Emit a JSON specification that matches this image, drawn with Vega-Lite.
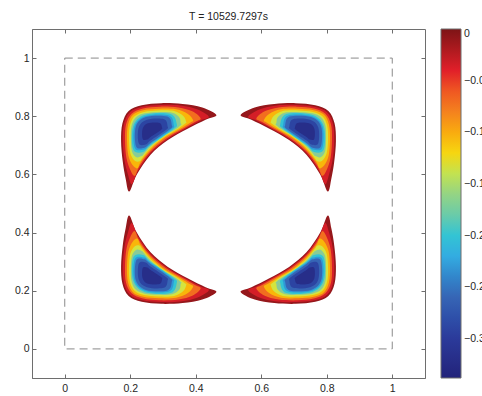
{
"$schema": "https://vega.github.io/schema/vega-lite/v6.json",
"width": 393,
"height": 349,
"autosize": "none",
"padding": {"left": 32, "top": 29, "right": 57, "bottom": 18},
"background": "white",
"title": {"text": "T = 10529.7297s", "fontSize": 10.5, "font": "Liberation Sans", "fontWeight": "normal", "color": "#222222", "offset": 6, "anchor": "middle"},
"config": {
  "view": {"stroke": "#6e6e6e", "strokeWidth": 1},
  "axis": {"grid": false, "title": null, "domainColor": "#6e6e6e", "tickColor": "#6e6e6e", "labelColor": "#262626", "labelFont": "Liberation Sans", "labelFontSize": 10.5, "tickSize": -4}
},
"layer": [
  {
    "data": {"values": [{"x0": 0, "x1": 1, "y0": 0, "y1": 1}]},
    "mark": {"type": "rect", "filled": false, "stroke": "#8a8a8a", "strokeWidth": 1, "strokeDash": [8, 5]},
    "encoding": {
      "x": {"field": "x0", "type": "quantitative", "scale": {"domain": [-0.1, 1.1], "nice": false, "zero": false}, "axis": {"orient": "bottom", "values": [0, 0.2, 0.4, 0.6, 0.8, 1], "format": ".1~f", "labelPadding": 9}},
      "x2": {"field": "x1"},
      "y": {"field": "y0", "type": "quantitative", "scale": {"domain": [-0.1, 1.1], "nice": false, "zero": false}, "axis": {"orient": "left", "values": [0, 0.2, 0.4, 0.6, 0.8, 1], "format": ".1~f", "labelPadding": 7}},
      "y2": {"field": "y1"}
    }
  },
  {
    "data": {"values": [
{"g":"a00","v":-0.01,"i":1,"x":0.463,"y":0.804},{"g":"a00","v":-0.01,"i":2,"x":0.420,"y":0.830},{"g":"a00","v":-0.01,"i":3,"x":0.360,"y":0.842},{"g":"a00","v":-0.01,"i":4,"x":0.295,"y":0.845},{"g":"a00","v":-0.01,"i":5,"x":0.235,"y":0.838},{"g":"a00","v":-0.01,"i":6,"x":0.195,"y":0.818},{"g":"a00","v":-0.01,"i":7,"x":0.176,"y":0.775},{"g":"a00","v":-0.01,"i":8,"x":0.172,"y":0.715},{"g":"a00","v":-0.01,"i":9,"x":0.177,"y":0.645},{"g":"a00","v":-0.01,"i":10,"x":0.186,"y":0.585},{"g":"a00","v":-0.01,"i":11,"x":0.197,"y":0.541},{"g":"a00","v":-0.01,"i":12,"x":0.220,"y":0.600},{"g":"a00","v":-0.01,"i":13,"x":0.262,"y":0.668},{"g":"a00","v":-0.01,"i":14,"x":0.315,"y":0.718},{"g":"a00","v":-0.01,"i":15,"x":0.375,"y":0.757},{"g":"a00","v":-0.01,"i":16,"x":0.430,"y":0.788},
{"g":"a01","v":-0.035,"i":1,"x":0.440,"y":0.798},{"g":"a01","v":-0.035,"i":2,"x":0.406,"y":0.823},{"g":"a01","v":-0.035,"i":3,"x":0.354,"y":0.837},{"g":"a01","v":-0.035,"i":4,"x":0.293,"y":0.839},{"g":"a01","v":-0.035,"i":5,"x":0.237,"y":0.833},{"g":"a01","v":-0.035,"i":6,"x":0.199,"y":0.814},{"g":"a01","v":-0.035,"i":7,"x":0.181,"y":0.774},{"g":"a01","v":-0.035,"i":8,"x":0.177,"y":0.717},{"g":"a01","v":-0.035,"i":9,"x":0.182,"y":0.651},{"g":"a01","v":-0.035,"i":10,"x":0.193,"y":0.600},{"g":"a01","v":-0.035,"i":11,"x":0.205,"y":0.567},{"g":"a01","v":-0.035,"i":12,"x":0.224,"y":0.613},{"g":"a01","v":-0.035,"i":13,"x":0.262,"y":0.673},{"g":"a01","v":-0.035,"i":14,"x":0.312,"y":0.720},{"g":"a01","v":-0.035,"i":15,"x":0.368,"y":0.757},{"g":"a01","v":-0.035,"i":16,"x":0.415,"y":0.785},
{"g":"a02","v":-0.07,"i":1,"x":0.415,"y":0.792},{"g":"a02","v":-0.07,"i":2,"x":0.391,"y":0.816},{"g":"a02","v":-0.07,"i":3,"x":0.347,"y":0.830},{"g":"a02","v":-0.07,"i":4,"x":0.291,"y":0.833},{"g":"a02","v":-0.07,"i":5,"x":0.239,"y":0.827},{"g":"a02","v":-0.07,"i":6,"x":0.204,"y":0.809},{"g":"a02","v":-0.07,"i":7,"x":0.187,"y":0.772},{"g":"a02","v":-0.07,"i":8,"x":0.184,"y":0.720},{"g":"a02","v":-0.07,"i":9,"x":0.188,"y":0.659},{"g":"a02","v":-0.07,"i":10,"x":0.200,"y":0.616},{"g":"a02","v":-0.07,"i":11,"x":0.214,"y":0.595},{"g":"a02","v":-0.07,"i":12,"x":0.228,"y":0.628},{"g":"a02","v":-0.07,"i":13,"x":0.262,"y":0.679},{"g":"a02","v":-0.07,"i":14,"x":0.308,"y":0.722},{"g":"a02","v":-0.07,"i":15,"x":0.360,"y":0.756},{"g":"a02","v":-0.07,"i":16,"x":0.399,"y":0.781},
{"g":"a03","v":-0.105,"i":1,"x":0.392,"y":0.786},{"g":"a03","v":-0.105,"i":2,"x":0.376,"y":0.808},{"g":"a03","v":-0.105,"i":3,"x":0.340,"y":0.824},{"g":"a03","v":-0.105,"i":4,"x":0.288,"y":0.826},{"g":"a03","v":-0.105,"i":5,"x":0.240,"y":0.821},{"g":"a03","v":-0.105,"i":6,"x":0.208,"y":0.805},{"g":"a03","v":-0.105,"i":7,"x":0.193,"y":0.770},{"g":"a03","v":-0.105,"i":8,"x":0.190,"y":0.722},{"g":"a03","v":-0.105,"i":9,"x":0.194,"y":0.666},{"g":"a03","v":-0.105,"i":10,"x":0.207,"y":0.632},{"g":"a03","v":-0.105,"i":11,"x":0.222,"y":0.621},{"g":"a03","v":-0.105,"i":12,"x":0.232,"y":0.643},{"g":"a03","v":-0.105,"i":13,"x":0.262,"y":0.685},{"g":"a03","v":-0.105,"i":14,"x":0.304,"y":0.725},{"g":"a03","v":-0.105,"i":15,"x":0.352,"y":0.756},{"g":"a03","v":-0.105,"i":16,"x":0.383,"y":0.778},
{"g":"a04","v":-0.135,"i":1,"x":0.371,"y":0.780},{"g":"a04","v":-0.135,"i":2,"x":0.362,"y":0.801},{"g":"a04","v":-0.135,"i":3,"x":0.334,"y":0.818},{"g":"a04","v":-0.135,"i":4,"x":0.286,"y":0.820},{"g":"a04","v":-0.135,"i":5,"x":0.242,"y":0.815},{"g":"a04","v":-0.135,"i":6,"x":0.213,"y":0.800},{"g":"a04","v":-0.135,"i":7,"x":0.199,"y":0.769},{"g":"a04","v":-0.135,"i":8,"x":0.196,"y":0.725},{"g":"a04","v":-0.135,"i":9,"x":0.200,"y":0.674},{"g":"a04","v":-0.135,"i":10,"x":0.214,"y":0.647},{"g":"a04","v":-0.135,"i":11,"x":0.229,"y":0.645},{"g":"a04","v":-0.135,"i":12,"x":0.236,"y":0.656},{"g":"a04","v":-0.135,"i":13,"x":0.262,"y":0.691},{"g":"a04","v":-0.135,"i":14,"x":0.301,"y":0.727},{"g":"a04","v":-0.135,"i":15,"x":0.345,"y":0.756},{"g":"a04","v":-0.135,"i":16,"x":0.368,"y":0.775},
{"g":"a05","v":-0.17,"i":1,"x":0.354,"y":0.776},{"g":"a05","v":-0.17,"i":2,"x":0.350,"y":0.796},{"g":"a05","v":-0.17,"i":3,"x":0.328,"y":0.812},{"g":"a05","v":-0.17,"i":4,"x":0.284,"y":0.814},{"g":"a05","v":-0.17,"i":5,"x":0.244,"y":0.810},{"g":"a05","v":-0.17,"i":6,"x":0.217,"y":0.796},{"g":"a05","v":-0.17,"i":7,"x":0.204,"y":0.767},{"g":"a05","v":-0.17,"i":8,"x":0.202,"y":0.727},{"g":"a05","v":-0.17,"i":9,"x":0.205,"y":0.680},{"g":"a05","v":-0.17,"i":10,"x":0.219,"y":0.659},{"g":"a05","v":-0.17,"i":11,"x":0.235,"y":0.663},{"g":"a05","v":-0.17,"i":12,"x":0.239,"y":0.667},{"g":"a05","v":-0.17,"i":13,"x":0.262,"y":0.696},{"g":"a05","v":-0.17,"i":14,"x":0.298,"y":0.729},{"g":"a05","v":-0.17,"i":15,"x":0.338,"y":0.755},{"g":"a05","v":-0.17,"i":16,"x":0.356,"y":0.772},
{"g":"a06","v":-0.2,"i":1,"x":0.342,"y":0.773},{"g":"a06","v":-0.2,"i":2,"x":0.323,"y":0.808},{"g":"a06","v":-0.2,"i":3,"x":0.245,"y":0.805},{"g":"a06","v":-0.2,"i":4,"x":0.209,"y":0.766},{"g":"a06","v":-0.2,"i":5,"x":0.209,"y":0.686},{"g":"a06","v":-0.2,"i":6,"x":0.239,"y":0.677},{"g":"a06","v":-0.2,"i":7,"x":0.262,"y":0.700},{"g":"a06","v":-0.2,"i":8,"x":0.332,"y":0.755},
{"g":"a07","v":-0.23,"i":1,"x":0.333,"y":0.770},{"g":"a07","v":-0.23,"i":2,"x":0.318,"y":0.803},{"g":"a07","v":-0.23,"i":3,"x":0.247,"y":0.801},{"g":"a07","v":-0.23,"i":4,"x":0.213,"y":0.765},{"g":"a07","v":-0.23,"i":5,"x":0.214,"y":0.691},{"g":"a07","v":-0.23,"i":6,"x":0.242,"y":0.686},{"g":"a07","v":-0.23,"i":7,"x":0.262,"y":0.704},{"g":"a07","v":-0.23,"i":8,"x":0.326,"y":0.755},
{"g":"a08","v":-0.26,"i":1,"x":0.327,"y":0.769},{"g":"a08","v":-0.26,"i":2,"x":0.313,"y":0.799},{"g":"a08","v":-0.26,"i":3,"x":0.248,"y":0.797},{"g":"a08","v":-0.26,"i":4,"x":0.217,"y":0.764},{"g":"a08","v":-0.26,"i":5,"x":0.218,"y":0.696},{"g":"a08","v":-0.26,"i":6,"x":0.243,"y":0.692},{"g":"a08","v":-0.26,"i":7,"x":0.262,"y":0.708},{"g":"a08","v":-0.26,"i":8,"x":0.321,"y":0.755},
{"g":"a09","v":-0.29,"i":1,"x":0.314,"y":0.766},{"g":"a09","v":-0.29,"i":2,"x":0.303,"y":0.790},{"g":"a09","v":-0.29,"i":3,"x":0.251,"y":0.788},{"g":"a09","v":-0.29,"i":4,"x":0.226,"y":0.762},{"g":"a09","v":-0.29,"i":5,"x":0.226,"y":0.707},{"g":"a09","v":-0.29,"i":6,"x":0.247,"y":0.703},{"g":"a09","v":-0.29,"i":7,"x":0.262,"y":0.717},{"g":"a09","v":-0.29,"i":8,"x":0.310,"y":0.754},
{"g":"a10","v":-0.32,"i":1,"x":0.297,"y":0.761},{"g":"a10","v":-0.32,"i":2,"x":0.289,"y":0.777},{"g":"a10","v":-0.32,"i":3,"x":0.254,"y":0.776},{"g":"a10","v":-0.32,"i":4,"x":0.238,"y":0.758},{"g":"a10","v":-0.32,"i":5,"x":0.238,"y":0.722},{"g":"a10","v":-0.32,"i":6,"x":0.252,"y":0.720},{"g":"a10","v":-0.32,"i":7,"x":0.262,"y":0.729},{"g":"a10","v":-0.32,"i":8,"x":0.294,"y":0.753},

{"g":"b00","v":-0.01,"i":1,"x":0.537,"y":0.804},{"g":"b00","v":-0.01,"i":2,"x":0.580,"y":0.830},{"g":"b00","v":-0.01,"i":3,"x":0.640,"y":0.842},{"g":"b00","v":-0.01,"i":4,"x":0.705,"y":0.845},{"g":"b00","v":-0.01,"i":5,"x":0.765,"y":0.838},{"g":"b00","v":-0.01,"i":6,"x":0.805,"y":0.818},{"g":"b00","v":-0.01,"i":7,"x":0.824,"y":0.775},{"g":"b00","v":-0.01,"i":8,"x":0.828,"y":0.715},{"g":"b00","v":-0.01,"i":9,"x":0.823,"y":0.645},{"g":"b00","v":-0.01,"i":10,"x":0.814,"y":0.585},{"g":"b00","v":-0.01,"i":11,"x":0.803,"y":0.541},{"g":"b00","v":-0.01,"i":12,"x":0.780,"y":0.600},{"g":"b00","v":-0.01,"i":13,"x":0.738,"y":0.668},{"g":"b00","v":-0.01,"i":14,"x":0.685,"y":0.718},{"g":"b00","v":-0.01,"i":15,"x":0.625,"y":0.757},{"g":"b00","v":-0.01,"i":16,"x":0.570,"y":0.788},
{"g":"b01","v":-0.035,"i":1,"x":0.560,"y":0.798},{"g":"b01","v":-0.035,"i":2,"x":0.594,"y":0.823},{"g":"b01","v":-0.035,"i":3,"x":0.646,"y":0.837},{"g":"b01","v":-0.035,"i":4,"x":0.707,"y":0.839},{"g":"b01","v":-0.035,"i":5,"x":0.763,"y":0.833},{"g":"b01","v":-0.035,"i":6,"x":0.801,"y":0.814},{"g":"b01","v":-0.035,"i":7,"x":0.819,"y":0.774},{"g":"b01","v":-0.035,"i":8,"x":0.823,"y":0.717},{"g":"b01","v":-0.035,"i":9,"x":0.818,"y":0.651},{"g":"b01","v":-0.035,"i":10,"x":0.807,"y":0.600},{"g":"b01","v":-0.035,"i":11,"x":0.795,"y":0.567},{"g":"b01","v":-0.035,"i":12,"x":0.776,"y":0.613},{"g":"b01","v":-0.035,"i":13,"x":0.738,"y":0.673},{"g":"b01","v":-0.035,"i":14,"x":0.688,"y":0.720},{"g":"b01","v":-0.035,"i":15,"x":0.632,"y":0.757},{"g":"b01","v":-0.035,"i":16,"x":0.585,"y":0.785},
{"g":"b02","v":-0.07,"i":1,"x":0.585,"y":0.792},{"g":"b02","v":-0.07,"i":2,"x":0.609,"y":0.816},{"g":"b02","v":-0.07,"i":3,"x":0.653,"y":0.830},{"g":"b02","v":-0.07,"i":4,"x":0.709,"y":0.833},{"g":"b02","v":-0.07,"i":5,"x":0.761,"y":0.827},{"g":"b02","v":-0.07,"i":6,"x":0.796,"y":0.809},{"g":"b02","v":-0.07,"i":7,"x":0.813,"y":0.772},{"g":"b02","v":-0.07,"i":8,"x":0.816,"y":0.720},{"g":"b02","v":-0.07,"i":9,"x":0.812,"y":0.659},{"g":"b02","v":-0.07,"i":10,"x":0.800,"y":0.616},{"g":"b02","v":-0.07,"i":11,"x":0.786,"y":0.595},{"g":"b02","v":-0.07,"i":12,"x":0.772,"y":0.628},{"g":"b02","v":-0.07,"i":13,"x":0.738,"y":0.679},{"g":"b02","v":-0.07,"i":14,"x":0.692,"y":0.722},{"g":"b02","v":-0.07,"i":15,"x":0.640,"y":0.756},{"g":"b02","v":-0.07,"i":16,"x":0.601,"y":0.781},
{"g":"b03","v":-0.105,"i":1,"x":0.608,"y":0.786},{"g":"b03","v":-0.105,"i":2,"x":0.624,"y":0.808},{"g":"b03","v":-0.105,"i":3,"x":0.660,"y":0.824},{"g":"b03","v":-0.105,"i":4,"x":0.712,"y":0.826},{"g":"b03","v":-0.105,"i":5,"x":0.760,"y":0.821},{"g":"b03","v":-0.105,"i":6,"x":0.792,"y":0.805},{"g":"b03","v":-0.105,"i":7,"x":0.807,"y":0.770},{"g":"b03","v":-0.105,"i":8,"x":0.810,"y":0.722},{"g":"b03","v":-0.105,"i":9,"x":0.806,"y":0.666},{"g":"b03","v":-0.105,"i":10,"x":0.793,"y":0.632},{"g":"b03","v":-0.105,"i":11,"x":0.778,"y":0.621},{"g":"b03","v":-0.105,"i":12,"x":0.768,"y":0.643},{"g":"b03","v":-0.105,"i":13,"x":0.738,"y":0.685},{"g":"b03","v":-0.105,"i":14,"x":0.696,"y":0.725},{"g":"b03","v":-0.105,"i":15,"x":0.648,"y":0.756},{"g":"b03","v":-0.105,"i":16,"x":0.617,"y":0.778},
{"g":"b04","v":-0.135,"i":1,"x":0.629,"y":0.780},{"g":"b04","v":-0.135,"i":2,"x":0.638,"y":0.801},{"g":"b04","v":-0.135,"i":3,"x":0.666,"y":0.818},{"g":"b04","v":-0.135,"i":4,"x":0.714,"y":0.820},{"g":"b04","v":-0.135,"i":5,"x":0.758,"y":0.815},{"g":"b04","v":-0.135,"i":6,"x":0.787,"y":0.800},{"g":"b04","v":-0.135,"i":7,"x":0.801,"y":0.769},{"g":"b04","v":-0.135,"i":8,"x":0.804,"y":0.725},{"g":"b04","v":-0.135,"i":9,"x":0.800,"y":0.674},{"g":"b04","v":-0.135,"i":10,"x":0.786,"y":0.647},{"g":"b04","v":-0.135,"i":11,"x":0.771,"y":0.645},{"g":"b04","v":-0.135,"i":12,"x":0.764,"y":0.656},{"g":"b04","v":-0.135,"i":13,"x":0.738,"y":0.691},{"g":"b04","v":-0.135,"i":14,"x":0.699,"y":0.727},{"g":"b04","v":-0.135,"i":15,"x":0.655,"y":0.756},{"g":"b04","v":-0.135,"i":16,"x":0.632,"y":0.775},
{"g":"b05","v":-0.17,"i":1,"x":0.646,"y":0.776},{"g":"b05","v":-0.17,"i":2,"x":0.650,"y":0.796},{"g":"b05","v":-0.17,"i":3,"x":0.672,"y":0.812},{"g":"b05","v":-0.17,"i":4,"x":0.716,"y":0.814},{"g":"b05","v":-0.17,"i":5,"x":0.756,"y":0.810},{"g":"b05","v":-0.17,"i":6,"x":0.783,"y":0.796},{"g":"b05","v":-0.17,"i":7,"x":0.796,"y":0.767},{"g":"b05","v":-0.17,"i":8,"x":0.798,"y":0.727},{"g":"b05","v":-0.17,"i":9,"x":0.795,"y":0.680},{"g":"b05","v":-0.17,"i":10,"x":0.781,"y":0.659},{"g":"b05","v":-0.17,"i":11,"x":0.765,"y":0.663},{"g":"b05","v":-0.17,"i":12,"x":0.761,"y":0.667},{"g":"b05","v":-0.17,"i":13,"x":0.738,"y":0.696},{"g":"b05","v":-0.17,"i":14,"x":0.702,"y":0.729},{"g":"b05","v":-0.17,"i":15,"x":0.662,"y":0.755},{"g":"b05","v":-0.17,"i":16,"x":0.644,"y":0.772},
{"g":"b06","v":-0.2,"i":1,"x":0.658,"y":0.773},{"g":"b06","v":-0.2,"i":2,"x":0.677,"y":0.808},{"g":"b06","v":-0.2,"i":3,"x":0.755,"y":0.805},{"g":"b06","v":-0.2,"i":4,"x":0.791,"y":0.766},{"g":"b06","v":-0.2,"i":5,"x":0.791,"y":0.686},{"g":"b06","v":-0.2,"i":6,"x":0.761,"y":0.677},{"g":"b06","v":-0.2,"i":7,"x":0.738,"y":0.700},{"g":"b06","v":-0.2,"i":8,"x":0.668,"y":0.755},
{"g":"b07","v":-0.23,"i":1,"x":0.667,"y":0.770},{"g":"b07","v":-0.23,"i":2,"x":0.682,"y":0.803},{"g":"b07","v":-0.23,"i":3,"x":0.753,"y":0.801},{"g":"b07","v":-0.23,"i":4,"x":0.787,"y":0.765},{"g":"b07","v":-0.23,"i":5,"x":0.786,"y":0.691},{"g":"b07","v":-0.23,"i":6,"x":0.758,"y":0.686},{"g":"b07","v":-0.23,"i":7,"x":0.738,"y":0.704},{"g":"b07","v":-0.23,"i":8,"x":0.674,"y":0.755},
{"g":"b08","v":-0.26,"i":1,"x":0.673,"y":0.769},{"g":"b08","v":-0.26,"i":2,"x":0.687,"y":0.799},{"g":"b08","v":-0.26,"i":3,"x":0.752,"y":0.797},{"g":"b08","v":-0.26,"i":4,"x":0.783,"y":0.764},{"g":"b08","v":-0.26,"i":5,"x":0.782,"y":0.696},{"g":"b08","v":-0.26,"i":6,"x":0.757,"y":0.692},{"g":"b08","v":-0.26,"i":7,"x":0.738,"y":0.708},{"g":"b08","v":-0.26,"i":8,"x":0.679,"y":0.755},
{"g":"b09","v":-0.29,"i":1,"x":0.686,"y":0.766},{"g":"b09","v":-0.29,"i":2,"x":0.697,"y":0.790},{"g":"b09","v":-0.29,"i":3,"x":0.749,"y":0.788},{"g":"b09","v":-0.29,"i":4,"x":0.774,"y":0.762},{"g":"b09","v":-0.29,"i":5,"x":0.774,"y":0.707},{"g":"b09","v":-0.29,"i":6,"x":0.753,"y":0.703},{"g":"b09","v":-0.29,"i":7,"x":0.738,"y":0.717},{"g":"b09","v":-0.29,"i":8,"x":0.690,"y":0.754},
{"g":"b10","v":-0.32,"i":1,"x":0.703,"y":0.761},{"g":"b10","v":-0.32,"i":2,"x":0.711,"y":0.777},{"g":"b10","v":-0.32,"i":3,"x":0.746,"y":0.776},{"g":"b10","v":-0.32,"i":4,"x":0.762,"y":0.758},{"g":"b10","v":-0.32,"i":5,"x":0.762,"y":0.722},{"g":"b10","v":-0.32,"i":6,"x":0.748,"y":0.720},{"g":"b10","v":-0.32,"i":7,"x":0.738,"y":0.729},{"g":"b10","v":-0.32,"i":8,"x":0.706,"y":0.753},

{"g":"c00","v":-0.01,"i":1,"x":0.463,"y":0.196},{"g":"c00","v":-0.01,"i":2,"x":0.420,"y":0.170},{"g":"c00","v":-0.01,"i":3,"x":0.360,"y":0.158},{"g":"c00","v":-0.01,"i":4,"x":0.295,"y":0.155},{"g":"c00","v":-0.01,"i":5,"x":0.235,"y":0.162},{"g":"c00","v":-0.01,"i":6,"x":0.195,"y":0.182},{"g":"c00","v":-0.01,"i":7,"x":0.176,"y":0.225},{"g":"c00","v":-0.01,"i":8,"x":0.172,"y":0.285},{"g":"c00","v":-0.01,"i":9,"x":0.177,"y":0.355},{"g":"c00","v":-0.01,"i":10,"x":0.186,"y":0.415},{"g":"c00","v":-0.01,"i":11,"x":0.197,"y":0.459},{"g":"c00","v":-0.01,"i":12,"x":0.220,"y":0.400},{"g":"c00","v":-0.01,"i":13,"x":0.262,"y":0.332},{"g":"c00","v":-0.01,"i":14,"x":0.315,"y":0.282},{"g":"c00","v":-0.01,"i":15,"x":0.375,"y":0.243},{"g":"c00","v":-0.01,"i":16,"x":0.430,"y":0.212},
{"g":"c01","v":-0.035,"i":1,"x":0.440,"y":0.202},{"g":"c01","v":-0.035,"i":2,"x":0.406,"y":0.177},{"g":"c01","v":-0.035,"i":3,"x":0.354,"y":0.163},{"g":"c01","v":-0.035,"i":4,"x":0.293,"y":0.161},{"g":"c01","v":-0.035,"i":5,"x":0.237,"y":0.167},{"g":"c01","v":-0.035,"i":6,"x":0.199,"y":0.186},{"g":"c01","v":-0.035,"i":7,"x":0.181,"y":0.226},{"g":"c01","v":-0.035,"i":8,"x":0.177,"y":0.283},{"g":"c01","v":-0.035,"i":9,"x":0.182,"y":0.349},{"g":"c01","v":-0.035,"i":10,"x":0.193,"y":0.400},{"g":"c01","v":-0.035,"i":11,"x":0.205,"y":0.433},{"g":"c01","v":-0.035,"i":12,"x":0.224,"y":0.387},{"g":"c01","v":-0.035,"i":13,"x":0.262,"y":0.327},{"g":"c01","v":-0.035,"i":14,"x":0.312,"y":0.280},{"g":"c01","v":-0.035,"i":15,"x":0.368,"y":0.243},{"g":"c01","v":-0.035,"i":16,"x":0.415,"y":0.215},
{"g":"c02","v":-0.07,"i":1,"x":0.415,"y":0.208},{"g":"c02","v":-0.07,"i":2,"x":0.391,"y":0.184},{"g":"c02","v":-0.07,"i":3,"x":0.347,"y":0.170},{"g":"c02","v":-0.07,"i":4,"x":0.291,"y":0.167},{"g":"c02","v":-0.07,"i":5,"x":0.239,"y":0.173},{"g":"c02","v":-0.07,"i":6,"x":0.204,"y":0.191},{"g":"c02","v":-0.07,"i":7,"x":0.187,"y":0.228},{"g":"c02","v":-0.07,"i":8,"x":0.184,"y":0.280},{"g":"c02","v":-0.07,"i":9,"x":0.188,"y":0.341},{"g":"c02","v":-0.07,"i":10,"x":0.200,"y":0.384},{"g":"c02","v":-0.07,"i":11,"x":0.214,"y":0.405},{"g":"c02","v":-0.07,"i":12,"x":0.228,"y":0.372},{"g":"c02","v":-0.07,"i":13,"x":0.262,"y":0.321},{"g":"c02","v":-0.07,"i":14,"x":0.308,"y":0.278},{"g":"c02","v":-0.07,"i":15,"x":0.360,"y":0.244},{"g":"c02","v":-0.07,"i":16,"x":0.399,"y":0.219},
{"g":"c03","v":-0.105,"i":1,"x":0.392,"y":0.214},{"g":"c03","v":-0.105,"i":2,"x":0.376,"y":0.192},{"g":"c03","v":-0.105,"i":3,"x":0.340,"y":0.176},{"g":"c03","v":-0.105,"i":4,"x":0.288,"y":0.174},{"g":"c03","v":-0.105,"i":5,"x":0.240,"y":0.179},{"g":"c03","v":-0.105,"i":6,"x":0.208,"y":0.195},{"g":"c03","v":-0.105,"i":7,"x":0.193,"y":0.230},{"g":"c03","v":-0.105,"i":8,"x":0.190,"y":0.278},{"g":"c03","v":-0.105,"i":9,"x":0.194,"y":0.334},{"g":"c03","v":-0.105,"i":10,"x":0.207,"y":0.368},{"g":"c03","v":-0.105,"i":11,"x":0.222,"y":0.379},{"g":"c03","v":-0.105,"i":12,"x":0.232,"y":0.357},{"g":"c03","v":-0.105,"i":13,"x":0.262,"y":0.315},{"g":"c03","v":-0.105,"i":14,"x":0.304,"y":0.275},{"g":"c03","v":-0.105,"i":15,"x":0.352,"y":0.244},{"g":"c03","v":-0.105,"i":16,"x":0.383,"y":0.222},
{"g":"c04","v":-0.135,"i":1,"x":0.371,"y":0.220},{"g":"c04","v":-0.135,"i":2,"x":0.362,"y":0.199},{"g":"c04","v":-0.135,"i":3,"x":0.334,"y":0.182},{"g":"c04","v":-0.135,"i":4,"x":0.286,"y":0.180},{"g":"c04","v":-0.135,"i":5,"x":0.242,"y":0.185},{"g":"c04","v":-0.135,"i":6,"x":0.213,"y":0.200},{"g":"c04","v":-0.135,"i":7,"x":0.199,"y":0.231},{"g":"c04","v":-0.135,"i":8,"x":0.196,"y":0.275},{"g":"c04","v":-0.135,"i":9,"x":0.200,"y":0.326},{"g":"c04","v":-0.135,"i":10,"x":0.214,"y":0.353},{"g":"c04","v":-0.135,"i":11,"x":0.229,"y":0.355},{"g":"c04","v":-0.135,"i":12,"x":0.236,"y":0.344},{"g":"c04","v":-0.135,"i":13,"x":0.262,"y":0.309},{"g":"c04","v":-0.135,"i":14,"x":0.301,"y":0.273},{"g":"c04","v":-0.135,"i":15,"x":0.345,"y":0.244},{"g":"c04","v":-0.135,"i":16,"x":0.368,"y":0.225},
{"g":"c05","v":-0.17,"i":1,"x":0.354,"y":0.224},{"g":"c05","v":-0.17,"i":2,"x":0.350,"y":0.204},{"g":"c05","v":-0.17,"i":3,"x":0.328,"y":0.188},{"g":"c05","v":-0.17,"i":4,"x":0.284,"y":0.186},{"g":"c05","v":-0.17,"i":5,"x":0.244,"y":0.190},{"g":"c05","v":-0.17,"i":6,"x":0.217,"y":0.204},{"g":"c05","v":-0.17,"i":7,"x":0.204,"y":0.233},{"g":"c05","v":-0.17,"i":8,"x":0.202,"y":0.273},{"g":"c05","v":-0.17,"i":9,"x":0.205,"y":0.320},{"g":"c05","v":-0.17,"i":10,"x":0.219,"y":0.341},{"g":"c05","v":-0.17,"i":11,"x":0.235,"y":0.337},{"g":"c05","v":-0.17,"i":12,"x":0.239,"y":0.333},{"g":"c05","v":-0.17,"i":13,"x":0.262,"y":0.304},{"g":"c05","v":-0.17,"i":14,"x":0.298,"y":0.271},{"g":"c05","v":-0.17,"i":15,"x":0.338,"y":0.245},{"g":"c05","v":-0.17,"i":16,"x":0.356,"y":0.228},
{"g":"c06","v":-0.2,"i":1,"x":0.342,"y":0.227},{"g":"c06","v":-0.2,"i":2,"x":0.323,"y":0.192},{"g":"c06","v":-0.2,"i":3,"x":0.245,"y":0.195},{"g":"c06","v":-0.2,"i":4,"x":0.209,"y":0.234},{"g":"c06","v":-0.2,"i":5,"x":0.209,"y":0.314},{"g":"c06","v":-0.2,"i":6,"x":0.239,"y":0.323},{"g":"c06","v":-0.2,"i":7,"x":0.262,"y":0.300},{"g":"c06","v":-0.2,"i":8,"x":0.332,"y":0.245},
{"g":"c07","v":-0.23,"i":1,"x":0.333,"y":0.230},{"g":"c07","v":-0.23,"i":2,"x":0.318,"y":0.197},{"g":"c07","v":-0.23,"i":3,"x":0.247,"y":0.199},{"g":"c07","v":-0.23,"i":4,"x":0.213,"y":0.235},{"g":"c07","v":-0.23,"i":5,"x":0.214,"y":0.309},{"g":"c07","v":-0.23,"i":6,"x":0.242,"y":0.314},{"g":"c07","v":-0.23,"i":7,"x":0.262,"y":0.296},{"g":"c07","v":-0.23,"i":8,"x":0.326,"y":0.245},
{"g":"c08","v":-0.26,"i":1,"x":0.327,"y":0.231},{"g":"c08","v":-0.26,"i":2,"x":0.313,"y":0.201},{"g":"c08","v":-0.26,"i":3,"x":0.248,"y":0.203},{"g":"c08","v":-0.26,"i":4,"x":0.217,"y":0.236},{"g":"c08","v":-0.26,"i":5,"x":0.218,"y":0.304},{"g":"c08","v":-0.26,"i":6,"x":0.243,"y":0.308},{"g":"c08","v":-0.26,"i":7,"x":0.262,"y":0.292},{"g":"c08","v":-0.26,"i":8,"x":0.321,"y":0.245},
{"g":"c09","v":-0.29,"i":1,"x":0.314,"y":0.234},{"g":"c09","v":-0.29,"i":2,"x":0.303,"y":0.210},{"g":"c09","v":-0.29,"i":3,"x":0.251,"y":0.212},{"g":"c09","v":-0.29,"i":4,"x":0.226,"y":0.238},{"g":"c09","v":-0.29,"i":5,"x":0.226,"y":0.293},{"g":"c09","v":-0.29,"i":6,"x":0.247,"y":0.297},{"g":"c09","v":-0.29,"i":7,"x":0.262,"y":0.283},{"g":"c09","v":-0.29,"i":8,"x":0.310,"y":0.246},
{"g":"c10","v":-0.32,"i":1,"x":0.297,"y":0.239},{"g":"c10","v":-0.32,"i":2,"x":0.289,"y":0.223},{"g":"c10","v":-0.32,"i":3,"x":0.254,"y":0.224},{"g":"c10","v":-0.32,"i":4,"x":0.238,"y":0.242},{"g":"c10","v":-0.32,"i":5,"x":0.238,"y":0.278},{"g":"c10","v":-0.32,"i":6,"x":0.252,"y":0.280},{"g":"c10","v":-0.32,"i":7,"x":0.262,"y":0.271},{"g":"c10","v":-0.32,"i":8,"x":0.294,"y":0.247},

{"g":"d00","v":-0.01,"i":1,"x":0.537,"y":0.196},{"g":"d00","v":-0.01,"i":2,"x":0.580,"y":0.170},{"g":"d00","v":-0.01,"i":3,"x":0.640,"y":0.158},{"g":"d00","v":-0.01,"i":4,"x":0.705,"y":0.155},{"g":"d00","v":-0.01,"i":5,"x":0.765,"y":0.162},{"g":"d00","v":-0.01,"i":6,"x":0.805,"y":0.182},{"g":"d00","v":-0.01,"i":7,"x":0.824,"y":0.225},{"g":"d00","v":-0.01,"i":8,"x":0.828,"y":0.285},{"g":"d00","v":-0.01,"i":9,"x":0.823,"y":0.355},{"g":"d00","v":-0.01,"i":10,"x":0.814,"y":0.415},{"g":"d00","v":-0.01,"i":11,"x":0.803,"y":0.459},{"g":"d00","v":-0.01,"i":12,"x":0.780,"y":0.400},{"g":"d00","v":-0.01,"i":13,"x":0.738,"y":0.332},{"g":"d00","v":-0.01,"i":14,"x":0.685,"y":0.282},{"g":"d00","v":-0.01,"i":15,"x":0.625,"y":0.243},{"g":"d00","v":-0.01,"i":16,"x":0.570,"y":0.212},
{"g":"d01","v":-0.035,"i":1,"x":0.560,"y":0.202},{"g":"d01","v":-0.035,"i":2,"x":0.594,"y":0.177},{"g":"d01","v":-0.035,"i":3,"x":0.646,"y":0.163},{"g":"d01","v":-0.035,"i":4,"x":0.707,"y":0.161},{"g":"d01","v":-0.035,"i":5,"x":0.763,"y":0.167},{"g":"d01","v":-0.035,"i":6,"x":0.801,"y":0.186},{"g":"d01","v":-0.035,"i":7,"x":0.819,"y":0.226},{"g":"d01","v":-0.035,"i":8,"x":0.823,"y":0.283},{"g":"d01","v":-0.035,"i":9,"x":0.818,"y":0.349},{"g":"d01","v":-0.035,"i":10,"x":0.807,"y":0.400},{"g":"d01","v":-0.035,"i":11,"x":0.795,"y":0.433},{"g":"d01","v":-0.035,"i":12,"x":0.776,"y":0.387},{"g":"d01","v":-0.035,"i":13,"x":0.738,"y":0.327},{"g":"d01","v":-0.035,"i":14,"x":0.688,"y":0.280},{"g":"d01","v":-0.035,"i":15,"x":0.632,"y":0.243},{"g":"d01","v":-0.035,"i":16,"x":0.585,"y":0.215},
{"g":"d02","v":-0.07,"i":1,"x":0.585,"y":0.208},{"g":"d02","v":-0.07,"i":2,"x":0.609,"y":0.184},{"g":"d02","v":-0.07,"i":3,"x":0.653,"y":0.170},{"g":"d02","v":-0.07,"i":4,"x":0.709,"y":0.167},{"g":"d02","v":-0.07,"i":5,"x":0.761,"y":0.173},{"g":"d02","v":-0.07,"i":6,"x":0.796,"y":0.191},{"g":"d02","v":-0.07,"i":7,"x":0.813,"y":0.228},{"g":"d02","v":-0.07,"i":8,"x":0.816,"y":0.280},{"g":"d02","v":-0.07,"i":9,"x":0.812,"y":0.341},{"g":"d02","v":-0.07,"i":10,"x":0.800,"y":0.384},{"g":"d02","v":-0.07,"i":11,"x":0.786,"y":0.405},{"g":"d02","v":-0.07,"i":12,"x":0.772,"y":0.372},{"g":"d02","v":-0.07,"i":13,"x":0.738,"y":0.321},{"g":"d02","v":-0.07,"i":14,"x":0.692,"y":0.278},{"g":"d02","v":-0.07,"i":15,"x":0.640,"y":0.244},{"g":"d02","v":-0.07,"i":16,"x":0.601,"y":0.219},
{"g":"d03","v":-0.105,"i":1,"x":0.608,"y":0.214},{"g":"d03","v":-0.105,"i":2,"x":0.624,"y":0.192},{"g":"d03","v":-0.105,"i":3,"x":0.660,"y":0.176},{"g":"d03","v":-0.105,"i":4,"x":0.712,"y":0.174},{"g":"d03","v":-0.105,"i":5,"x":0.760,"y":0.179},{"g":"d03","v":-0.105,"i":6,"x":0.792,"y":0.195},{"g":"d03","v":-0.105,"i":7,"x":0.807,"y":0.230},{"g":"d03","v":-0.105,"i":8,"x":0.810,"y":0.278},{"g":"d03","v":-0.105,"i":9,"x":0.806,"y":0.334},{"g":"d03","v":-0.105,"i":10,"x":0.793,"y":0.368},{"g":"d03","v":-0.105,"i":11,"x":0.778,"y":0.379},{"g":"d03","v":-0.105,"i":12,"x":0.768,"y":0.357},{"g":"d03","v":-0.105,"i":13,"x":0.738,"y":0.315},{"g":"d03","v":-0.105,"i":14,"x":0.696,"y":0.275},{"g":"d03","v":-0.105,"i":15,"x":0.648,"y":0.244},{"g":"d03","v":-0.105,"i":16,"x":0.617,"y":0.222},
{"g":"d04","v":-0.135,"i":1,"x":0.629,"y":0.220},{"g":"d04","v":-0.135,"i":2,"x":0.638,"y":0.199},{"g":"d04","v":-0.135,"i":3,"x":0.666,"y":0.182},{"g":"d04","v":-0.135,"i":4,"x":0.714,"y":0.180},{"g":"d04","v":-0.135,"i":5,"x":0.758,"y":0.185},{"g":"d04","v":-0.135,"i":6,"x":0.787,"y":0.200},{"g":"d04","v":-0.135,"i":7,"x":0.801,"y":0.231},{"g":"d04","v":-0.135,"i":8,"x":0.804,"y":0.275},{"g":"d04","v":-0.135,"i":9,"x":0.800,"y":0.326},{"g":"d04","v":-0.135,"i":10,"x":0.786,"y":0.353},{"g":"d04","v":-0.135,"i":11,"x":0.771,"y":0.355},{"g":"d04","v":-0.135,"i":12,"x":0.764,"y":0.344},{"g":"d04","v":-0.135,"i":13,"x":0.738,"y":0.309},{"g":"d04","v":-0.135,"i":14,"x":0.699,"y":0.273},{"g":"d04","v":-0.135,"i":15,"x":0.655,"y":0.244},{"g":"d04","v":-0.135,"i":16,"x":0.632,"y":0.225},
{"g":"d05","v":-0.17,"i":1,"x":0.646,"y":0.224},{"g":"d05","v":-0.17,"i":2,"x":0.650,"y":0.204},{"g":"d05","v":-0.17,"i":3,"x":0.672,"y":0.188},{"g":"d05","v":-0.17,"i":4,"x":0.716,"y":0.186},{"g":"d05","v":-0.17,"i":5,"x":0.756,"y":0.190},{"g":"d05","v":-0.17,"i":6,"x":0.783,"y":0.204},{"g":"d05","v":-0.17,"i":7,"x":0.796,"y":0.233},{"g":"d05","v":-0.17,"i":8,"x":0.798,"y":0.273},{"g":"d05","v":-0.17,"i":9,"x":0.795,"y":0.320},{"g":"d05","v":-0.17,"i":10,"x":0.781,"y":0.341},{"g":"d05","v":-0.17,"i":11,"x":0.765,"y":0.337},{"g":"d05","v":-0.17,"i":12,"x":0.761,"y":0.333},{"g":"d05","v":-0.17,"i":13,"x":0.738,"y":0.304},{"g":"d05","v":-0.17,"i":14,"x":0.702,"y":0.271},{"g":"d05","v":-0.17,"i":15,"x":0.662,"y":0.245},{"g":"d05","v":-0.17,"i":16,"x":0.644,"y":0.228},
{"g":"d06","v":-0.2,"i":1,"x":0.658,"y":0.227},{"g":"d06","v":-0.2,"i":2,"x":0.677,"y":0.192},{"g":"d06","v":-0.2,"i":3,"x":0.755,"y":0.195},{"g":"d06","v":-0.2,"i":4,"x":0.791,"y":0.234},{"g":"d06","v":-0.2,"i":5,"x":0.791,"y":0.314},{"g":"d06","v":-0.2,"i":6,"x":0.761,"y":0.323},{"g":"d06","v":-0.2,"i":7,"x":0.738,"y":0.300},{"g":"d06","v":-0.2,"i":8,"x":0.668,"y":0.245},
{"g":"d07","v":-0.23,"i":1,"x":0.667,"y":0.230},{"g":"d07","v":-0.23,"i":2,"x":0.682,"y":0.197},{"g":"d07","v":-0.23,"i":3,"x":0.753,"y":0.199},{"g":"d07","v":-0.23,"i":4,"x":0.787,"y":0.235},{"g":"d07","v":-0.23,"i":5,"x":0.786,"y":0.309},{"g":"d07","v":-0.23,"i":6,"x":0.758,"y":0.314},{"g":"d07","v":-0.23,"i":7,"x":0.738,"y":0.296},{"g":"d07","v":-0.23,"i":8,"x":0.674,"y":0.245},
{"g":"d08","v":-0.26,"i":1,"x":0.673,"y":0.231},{"g":"d08","v":-0.26,"i":2,"x":0.687,"y":0.201},{"g":"d08","v":-0.26,"i":3,"x":0.752,"y":0.203},{"g":"d08","v":-0.26,"i":4,"x":0.783,"y":0.236},{"g":"d08","v":-0.26,"i":5,"x":0.782,"y":0.304},{"g":"d08","v":-0.26,"i":6,"x":0.757,"y":0.308},{"g":"d08","v":-0.26,"i":7,"x":0.738,"y":0.292},{"g":"d08","v":-0.26,"i":8,"x":0.679,"y":0.245},
{"g":"d09","v":-0.29,"i":1,"x":0.686,"y":0.234},{"g":"d09","v":-0.29,"i":2,"x":0.697,"y":0.210},{"g":"d09","v":-0.29,"i":3,"x":0.749,"y":0.212},{"g":"d09","v":-0.29,"i":4,"x":0.774,"y":0.238},{"g":"d09","v":-0.29,"i":5,"x":0.774,"y":0.293},{"g":"d09","v":-0.29,"i":6,"x":0.753,"y":0.297},{"g":"d09","v":-0.29,"i":7,"x":0.738,"y":0.283},{"g":"d09","v":-0.29,"i":8,"x":0.690,"y":0.246},
{"g":"d10","v":-0.32,"i":1,"x":0.703,"y":0.239},{"g":"d10","v":-0.32,"i":2,"x":0.711,"y":0.223},{"g":"d10","v":-0.32,"i":3,"x":0.746,"y":0.224},{"g":"d10","v":-0.32,"i":4,"x":0.762,"y":0.242},{"g":"d10","v":-0.32,"i":5,"x":0.762,"y":0.278},{"g":"d10","v":-0.32,"i":6,"x":0.748,"y":0.280},{"g":"d10","v":-0.32,"i":7,"x":0.738,"y":0.271},{"g":"d10","v":-0.32,"i":8,"x":0.706,"y":0.247}
    ]},
    "mark": {"type": "line", "interpolate": "cardinal-closed", "strokeWidth": 0},
    "encoding": {
      "x": {"field": "x", "type": "quantitative", "scale": {"domain": [-0.1, 1.1], "nice": false, "zero": false}, "axis": {"orient": "top", "values": [0, 0.2, 0.4, 0.6, 0.8, 1], "labels": false, "domain": false}},
      "y": {"field": "y", "type": "quantitative", "scale": {"domain": [-0.1, 1.1], "nice": false, "zero": false}, "axis": {"orient": "right", "values": [0, 0.2, 0.4, 0.6, 0.8, 1], "labels": false, "domain": false}},
      "detail": {"field": "g"},
      "order": {"field": "i", "type": "quantitative"},
      "fill": {
        "field": "v", "type": "quantitative",
        "scale": {"type": "linear", "domain": [-0.338, -0.29575, -0.2535, -0.21125, -0.169, -0.12675, -0.0845, -0.04225, 0], "range": ["#22237a", "#2c3d9e", "#3a6cb8", "#3dbde9", "#8ccb95", "#f3e51c", "#f58a1f", "#e7202a", "#7d1416"]},
        "legend": {"orient": "none", "legendX": 409, "legendY": 0, "direction": "vertical", "title": null, "gradientLength": 349, "gradientThickness": 20, "values": [0, -0.05, -0.1, -0.15, -0.2, -0.25, -0.3], "format": ".2~f", "labelFontSize": 10.5, "labelFont": "Liberation Sans", "labelColor": "#262626", "labelOffset": 3, "labelBaseline": "middle", "labelOverlap": false, "gradientStrokeColor": "#6e6e6e", "gradientStrokeWidth": 1, "padding": 0}
      }
    }
  }
],
"resolve": {"axis": {"x": "independent", "y": "independent"}}
}
